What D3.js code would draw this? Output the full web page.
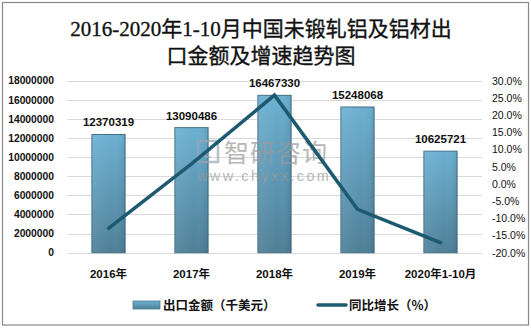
<!DOCTYPE html>
<html>
<head>
<meta charset="utf-8">
<script src="https://cdn.jsdelivr.net/npm/d3@7"></script>
<style>
  html, body { margin: 0; padding: 0; background: #fff; }
  svg { display: block; }
</style>
</head>
<body>
<svg id="chart" width="531" height="328"></svg>
<script>
// Export value (thousand USD) and year-on-year growth (%)
const categories = ["2016年", "2017年", "2018年", "2019年", "2020年1-10月"];
const exportValues = [12370319, 13090486, 16467330, 15248068, 10625721];
const growthRates = [-12.9, 5.8, 25.8, -7.4, -17.1];
const leftTicks = [0, 2000000, 4000000, 6000000, 8000000, 10000000, 12000000, 14000000, 16000000, 18000000];
const rightTicks = [-20, -15, -10, -5, 0, 5, 10, 15, 20, 25, 30];
const titleLines = ["2016-2020年1-10月中国未锻轧铝及铝材出", "口金额及增速趋势图"];
const legendLabels = ["出口金额（千美元）", "同比增长（%）"];

const svg = d3.select("#chart");
const W = 531, H = 328;
const plot = { left: 67, right: 482, top: 80.7, bottom: 252.7 };

// outer frame
svg.append("rect")
  .attr("x", 2.5).attr("y", 2.5).attr("width", W - 5).attr("height", H - 5.5)
  .attr("fill", "#fff").attr("stroke", "#888").attr("stroke-width", 1.2);

// title
const title = svg.append("text")
  .attr("text-anchor", "middle")
  .attr("font-family", "'Liberation Serif', 'Noto Sans CJK SC', serif")
  .attr("font-size", 21).attr("font-weight", "normal").attr("fill", "#111")
  .attr("stroke", "#111").attr("stroke-width", 0.35);
titleLines.forEach((t, i) => {
  title.append("tspan").attr("x", 261).attr("y", 36 + i * 26.5).text(t);
});

const x = d3.scaleBand().domain(categories).range([plot.left, plot.right]).paddingInner(0.6).paddingOuter(0.3);
const yL = d3.scaleLinear().domain([0, 18000000]).range([plot.bottom, plot.top]);
const yR = d3.scaleLinear().domain([-20, 30]).range([plot.bottom, plot.top]);

// gridlines
svg.append("g").selectAll("line").data(leftTicks).join("line")
  .attr("x1", plot.left).attr("x2", plot.right)
  .attr("y1", d => Math.round(yL(d)) + 0.5).attr("y2", d => Math.round(yL(d)) + 0.5)
  .attr("stroke", "#d9d9d9").attr("stroke-width", 1);

// left axis
const leftAxis = svg.append("g").attr("transform", `translate(${plot.left - 13},0)`)
  .call(d3.axisLeft(yL).tickValues(leftTicks).tickFormat(d3.format("d")).tickSize(0).tickPadding(0));
leftAxis.select(".domain").remove();
leftAxis.selectAll("text")
  .attr("font-family", "'Liberation Sans', Arial, sans-serif")
  .attr("font-size", 10.3).attr("font-weight", "bold").attr("fill", "#111");

// right axis
const rightAxis = svg.append("g").attr("transform", `translate(${plot.right + 10},0)`)
  .call(d3.axisRight(yR).tickValues(rightTicks).tickFormat(d => d.toFixed(1) + "%").tickSize(0).tickPadding(0));
rightAxis.select(".domain").remove();
rightAxis.selectAll("text")
  .attr("font-family", "'Liberation Sans', Arial, sans-serif")
  .attr("font-size", 10.5).attr("fill", "#111");

// bottom category labels
const bottomAxis = svg.append("g").attr("transform", `translate(0,${plot.bottom})`)
  .call(d3.axisBottom(x).tickSize(0).tickPadding(17));
bottomAxis.select(".domain").remove();
bottomAxis.selectAll("text")
  .attr("font-family", "'Liberation Sans', 'Noto Sans CJK SC', sans-serif")
  .attr("font-size", 11.5).attr("font-weight", "bold").attr("fill", "#111");

// bar gradient
const defs = svg.append("defs");
const grad = defs.append("linearGradient").attr("id", "barGrad")
  .attr("x1", 0).attr("y1", 0).attr("x2", 0).attr("y2", 1);
grad.append("stop").attr("offset", "0%").attr("stop-color", "#6cb0d2");
grad.append("stop").attr("offset", "100%").attr("stop-color", "#4e7f97");
const gradH = defs.append("linearGradient").attr("id", "barShade")
  .attr("x1", 0).attr("y1", 0).attr("x2", 1).attr("y2", 0);
gradH.append("stop").attr("offset", "0%").attr("stop-color", "#fff").attr("stop-opacity", 0.08);
gradH.append("stop").attr("offset", "60%").attr("stop-color", "#fff").attr("stop-opacity", 0);
gradH.append("stop").attr("offset", "100%").attr("stop-color", "#000").attr("stop-opacity", 0.08);

const bars = svg.append("g");
bars.selectAll("rect.bar").data(exportValues).join("rect")
  .attr("class", "bar")
  .attr("x", (d, i) => x(categories[i]))
  .attr("y", d => yL(d))
  .attr("width", x.bandwidth())
  .attr("height", d => yL(0) - yL(d))
  .attr("fill", "url(#barGrad)")
  .attr("stroke", "#3f6f86").attr("stroke-width", 1);
bars.selectAll("rect.shade").data(exportValues).join("rect")
  .attr("class", "shade")
  .attr("x", (d, i) => x(categories[i]))
  .attr("y", d => yL(d))
  .attr("width", x.bandwidth())
  .attr("height", d => yL(0) - yL(d))
  .attr("fill", "url(#barShade)");

// value labels
svg.append("g").selectAll("text").data(exportValues).join("text")
  .attr("x", (d, i) => x(categories[i]) + x.bandwidth() / 2)
  .attr("y", d => yL(d) - 8)
  .attr("text-anchor", "middle")
  .attr("font-family", "'Liberation Sans', Arial, sans-serif")
  .attr("font-size", 11.5).attr("font-weight", "bold").attr("fill", "#111")
  .text(d => d);

// watermark
const wm = svg.append("g").attr("opacity", 0.7);
wm.append("rect").attr("x", 198).attr("y", 141).attr("width", 20).attr("height", 21)
  .attr("fill", "none").attr("stroke", "#9aa7b3").attr("stroke-width", 2.5);
wm.append("text").attr("x", 203).attr("y", 158)
  .attr("font-family", "'Liberation Sans', sans-serif").attr("font-size", 16).attr("font-weight", "bold")
  .attr("fill", "#8fa9c4").text("z");
wm.append("text").attr("x", 224).attr("y", 162)
  .attr("font-family", "'Noto Sans CJK SC', sans-serif").attr("font-size", 25)
  .attr("fill", "#9a9a9a").attr("letter-spacing", 1).text("智研咨询");
wm.append("text").attr("x", 197).attr("y", 181)
  .attr("font-family", "'Liberation Sans', sans-serif").attr("font-size", 14.5)
  .attr("fill", "#9a9a9a").attr("letter-spacing", 2.4).text("www.chyxx.com");

// growth line
const line = d3.line()
  .x((d, i) => x(categories[i]) + x.bandwidth() / 2)
  .y(d => yR(d));
svg.append("path").datum(growthRates)
  .attr("d", line)
  .attr("fill", "none").attr("stroke", "#1d5a70").attr("stroke-width", 3.5)
  .attr("stroke-linejoin", "miter").attr("stroke-linecap", "round");

// legend
const lg = svg.append("g");
lg.append("rect").attr("x", 133).attr("y", 301).attr("width", 27).attr("height", 8)
  .attr("fill", "url(#barGrad)").attr("stroke", "#4a7c92").attr("stroke-width", 0.8);
lg.append("text").attr("x", 163).attr("y", 310)
  .attr("font-family", "'Noto Sans CJK SC', sans-serif")
  .attr("font-size", 12.5).attr("font-weight", "bold").attr("fill", "#111")
  .text(legendLabels[0]);
lg.append("line").attr("x1", 318).attr("x2", 346).attr("y1", 305).attr("y2", 305)
  .attr("stroke", "#1d5a70").attr("stroke-width", 3.5).attr("stroke-linecap", "round");
lg.append("text").attr("x", 349).attr("y", 310)
  .attr("font-family", "'Noto Sans CJK SC', sans-serif")
  .attr("font-size", 12.5).attr("font-weight", "bold").attr("fill", "#111")
  .text(legendLabels[1]);
</script>
</body>
</html>
